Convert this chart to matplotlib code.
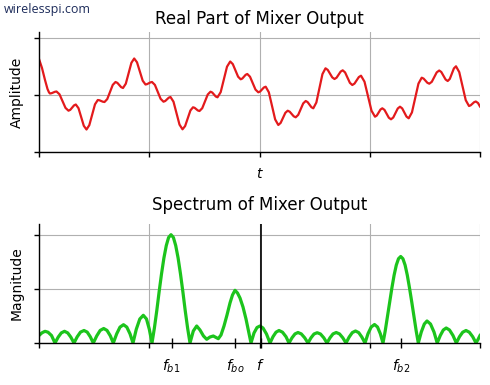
import matplotlib
import matplotlib.pyplot as plt

matplotlib.use("Agg")

# time-domain trace (real part)
t_vals = [0, 3, 6, 8.5, 10, 11,
          12.6, 14.25, 15.9, 17.5, 20.5, 23.5, 26.5, 29.5, 31.3, 33.15, 35, 36.8,
          39.5, 42.15, 44.8, 47.5, 50.3, 53.15, 56, 58.8, 60.5, 62.15, 63.8, 65.5,
          68.25, 71, 73.75, 76.5, 78.4, 80.25, 82.1, 84, 86.8, 89.6, 92.4, 95.2,
          98, 100.85, 103.7, 106.5, 108.1, 109.75, 111.4, 113, 115.9, 118.75, 121.6, 124.5,
          126.25, 128, 129.75, 131.5, 134.5, 137.5, 140.5, 143.5, 146.1, 148.75, 151.4, 154,
          155.6, 157.25, 158.9, 160.5, 163.25, 166, 168.75, 171.5, 173.25, 175, 176.75, 178.5,
          181.7, 184.85, 188, 191.2, 193.8, 196.45, 199.1, 201.7, 203.35, 205, 206.65, 208.3,
          211, 213.8, 216.5, 219.3, 221.15, 223, 224.85, 226.7, 229.85, 233, 236.15, 239.3,
          241.65, 244, 246.35, 248.7, 250.7, 252.7, 254.7, 256.7, 259.2, 261.7, 264.2, 266.7,
          268.6, 270.5, 272.4, 274.3, 277.35, 280.4, 283.45, 286.5, 288.75, 291, 293.25, 295.5,
          297.55, 299.6, 301.65, 303.7, 306.1, 308.5, 310.9, 313.3, 315.5, 317.65, 319.8, 322,
          325.5, 329, 332.5, 336, 337.8, 339.65, 341.5, 343.3, 345.5, 347.65, 349.8, 352,
          354.25, 356.5, 358.75, 361, 363.2, 365.35, 367.5, 369.7, 372.95, 376.2, 379.45, 382.7,
          384.6, 386.5, 388.4, 390.3, 392.8, 395.25, 397.7, 400.2, 402.3, 404.45, 406.6, 408.7,
          410.8, 412.85, 414.9, 417, 420.25, 423.5, 426.75, 430, 431.7, 433.4, 435.1, 436.8,
          439, 441]
re_vals = [36, 27, 15, 6, 2.6, 1.5,
           1.8, 2.5, 3.2, 3.5, 0.7, -6.1, -12.9, -15.7, -14.8, -12.6, -10.4, -9.5,
           -13.2, -22, -30.8, -34.5, -30.2, -19.75, -9.3, -5, -5.3, -6, -6.7, -7,
           -4.1, 3, 10.1, 13, 12.1, 10, 7.9, 7, 11.3, 21.75, 32.2, 36.5,
           32.7, 23.5, 14.3, 10.5, 10.9, 11.75, 12.6, 13, 10.1, 3.15, -3.8, -6.7,
           -6, -4.35, -2.7, -2, -6.7, -18.15, -29.6, -34.3, -31.1, -23.3, -15.5, -12.3,
           -12.8, -14.15, -15.5, -16, -13.2, -6.35, 0.5, 3.3, 2.5, 0.5, -1.5, -2.3,
           2.9, 15.6, 28.3, 33.5, 30.9, 24.6, 18.3, 15.7, 16.5, 18.35, 20.2, 21,
           18.3, 11.85, 5.4, 2.7, 3.5, 5.5, 7.5, 8.3, 2.7, -10.85, -24.4, -30,
           -27.9, -22.85, -17.8, -15.7, -16.7, -19, -21.3, -22.3, -19.9, -14.15, -8.4, -6,
           -7.1, -9.65, -12.2, -13.3, -7.5, 6.7, 20.9, 26.7, 25.1, 21.35, 17.6, 16,
           17.3, 20.35, 23.4, 24.7, 22.55, 17.35, 12.15, 10, 11.4, 14.65, 17.9, 19.3,
           13.3, -1.2, -15.7, -21.7, -20.5, -17.5, -14.5, -13.3, -14.9, -18.8, -22.7, -24.3,
           -22.5, -18, -13.5, -11.7, -13.4, -17.5, -21.6, -23.3, -17.4, -3, 11.4, 17.3,
           16.4, 14.3, 12.2, 11.3, 13.2, 17.9, 22.6, 24.5, 23, 19.25, 15.5, 14,
           16.1, 21.35, 26.6, 28.7, 22.9, 8.85, -5.2, -11, -10.3, -8.75, -7.2, -6.5,
           -8, -11.5]

# spectrum magnitude
f_vals = [0, 3, 6, 9, 12.5, 16,
          19.2, 22.3, 25.5, 28.7, 31.8, 35,
          38.2, 41.5, 45, 48.2, 51.3, 54.3,
          57.8, 61.2, 64.7, 68, 71.3, 74.3,
          77.7, 81, 84.5, 87.8, 91, 94,
          97.3, 100.8, 104.3, 107.5, 110.3, 113,
          115.4, 117.8, 120.1, 122.5, 124.9, 127.3, 129.6, 132, 134.4, 136.7, 139.1, 141.5,
          143.9, 146.2, 148.6, 151,
          154.3, 157.7, 161, 164.5, 167.7, 171, 174.3, 177, 179.3,
          182, 185, 188, 191, 193.5, 196, 198.5, 201, 204, 207, 209.5, 212,
          215, 218, 221, 224, 227.5, 231,
          234, 237, 240, 243.5, 247, 250,
          253, 256, 259, 262.3, 265.7, 269,
          272, 275, 278.2, 281.5, 284.8, 288,
          291, 294, 297.2, 300.5, 303.8, 307,
          310.2, 313.3, 316.5, 319.7, 322.8, 326,
          329, 332.2, 335.5, 338.5, 341.3, 344,
          346.2, 348.4, 350.6, 352.9, 355.1, 357.3, 359.5, 361.7, 363.9, 366.1, 368.3, 370.5,
          372.8, 375, 377.2, 379.3,
          382.3, 385.3, 388, 391.5, 395, 398.2,
          401.3, 404.3, 407.2, 410.5, 414, 417.3,
          420.5, 423.7, 427, 430.3, 433.7, 437, 439, 441]
mag_vals = [7.5, 10.2, 11.7, 10.8, 7.5, 0,
            5.9, 10.1, 11.7, 10.1, 5.9, 0,
            6.2, 10.9, 12.5, 10.9, 6.2, 0,
            7.2, 12.6, 14.5, 12.6, 7.2, 0,
            9.2, 15.9, 18.3, 15.9, 9.2, 0,
            13.8, 24, 27.7, 24, 13.8, 0,
            15, 32.5, 51, 69, 85, 97.5, 105.5, 108.3, 105.5, 97.5, 85, 69,
            51, 32.5, 15, 0,
            12, 17, 13, 7, 3.7, 6, 7, 5.5, 4.3,
            8, 17, 28, 40, 48, 52.7, 50, 45, 36, 24, 12, 0,
            10, 15.5, 17, 15, 9, 0,
            6.3, 10.8, 12.5, 10.8, 6.3, 0,
            5.2, 9.1, 10.5, 9.1, 5.2, 0,
            5.2, 9, 10.3, 9, 5.2, 0,
            5.2, 9.1, 10.5, 9.1, 5.2, 0,
            6, 10.4, 12, 10.4, 6, 0,
            9.3, 16, 18.5, 16, 9.3, 0,
            12, 26, 40.7, 55.1, 67.8, 77.9, 84.3, 86.5, 84.3, 77.9, 67.8, 55.1,
            40.7, 26, 12, 0,
            11, 19, 22, 19, 11, 0,
            7.5, 13, 15, 13, 7.5, 0,
            6.3, 10.8, 12.5, 10.8, 6.3, 0, 3.5, 7.5]

grid_x = [0, 110.25, 220.5, 330.75, 441]
freq_marks = [132.5, 196, 221.5, 361.7]
freq_labels = ["$f_{b1}$", "$f_{bo}$", "$f$", "$f_{b2}$"]

fig = plt.figure(figsize=(4.9, 3.85), dpi=100)

# top: real part in time
ax1 = fig.add_axes([39 / 490, 1 - 152 / 385, 441 / 490, 120 / 385])
ax1.plot(t_vals, re_vals, color="#e31a1c", linewidth=1.6)
ax1.set_xlim(0, 441)
ax1.set_ylim(-57, 63)
ax1.set_xticks(grid_x)
ax1.set_xticklabels([])
ax1.set_yticks([-57, 0, 57])
ax1.set_yticklabels([])
ax1.grid(True, color="#b0b0b0", linewidth=0.8)
ax1.set_axisbelow(True)
ax1.spines[["top", "right"]].set_visible(False)
ax1.set_title("Real Part of Mixer Output", fontsize=12)
ax1.set_ylabel("Amplitude", fontsize=10, labelpad=4)
ax1.set_xlabel("$t$", fontsize=10, labelpad=4)

# bottom: spectrum magnitude
ax2 = fig.add_axes([39 / 490, 1 - 343 / 385, 441 / 490, 119 / 385])
ax2.plot(f_vals, mag_vals, color="#1cc41c", linewidth=2.3)
ax2.axvline(221.5, color="black", linewidth=1.2)
ax2.set_xlim(0, 441)
ax2.set_ylim(0, 119)
ax2.set_xticks(grid_x)
ax2.set_xticklabels([])
ax2.set_xticks(freq_marks, minor=True)
ax2.set_xticklabels(freq_labels, minor=True, fontsize=10)
ax2.tick_params(axis="x", which="minor", direction="inout", length=7, width=1.0, pad=7)
ax2.set_yticks([0, 54, 108])
ax2.set_yticklabels([])
ax2.grid(True, which="major", color="#b0b0b0", linewidth=0.8)
ax2.set_axisbelow(True)
ax2.spines[["top", "right"]].set_visible(False)
ax2.set_title("Spectrum of Mixer Output", fontsize=12, pad=10)
ax2.set_ylabel("Magnitude", fontsize=10, labelpad=4)

for ax in (ax1, ax2):
    ax.tick_params(which="major", width=1.0)
    for side in ("left", "bottom"):
        ax.spines[side].set_linewidth(1.0)

fig.text(4 / 490, 1 - 9 / 385, "wirelesspi.com", fontsize=9, family="Open Sans",
         color="#1c2b5a", va="center", ha="left")

fig.savefig("out.png", dpi=100)
plt.close(fig)
